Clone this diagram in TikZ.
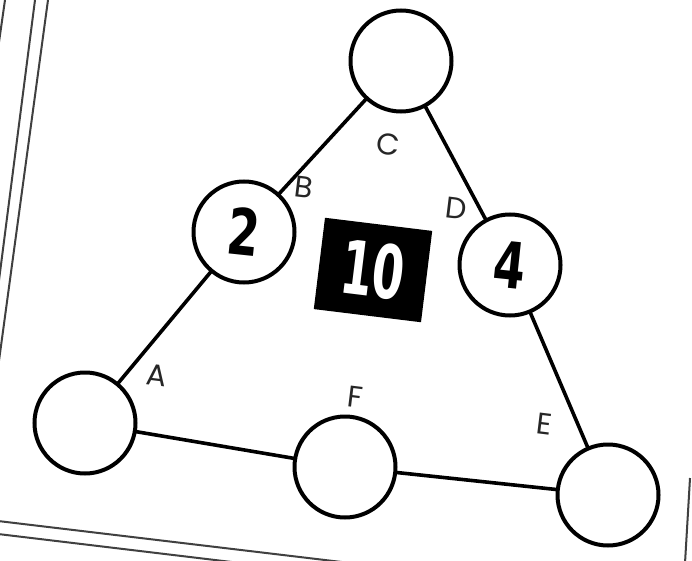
\documentclass[tikz,border=0pt]{standalone}
\usepackage{fontspec}
\usepackage{graphicx}
\setmainfont{Poppins}
\newfontfamily\numfont{DejaVu Sans}
\tikzset{
  spot/.style={circle, draw=black, line width=4pt, fill=white, minimum size=101pt, inner sep=0pt},
  edge/.style={line width=3.6pt, black},
  lbl/.style={font=\fontsize{30}{32}\selectfont, text=black!85, rotate=-7, inner sep=0pt},
  num/.style={font=\numfont\bfseries\fontsize{64}{66}\selectfont, rotate=-6, inner sep=0pt},
  paper/.style={line width=2pt, black!75},
}
\begin{document}
\begin{tikzpicture}[x=1pt,y=-1pt]
\useasboundingbox (0,0) rectangle (692,561);
\fill[white] (0,0) rectangle (692,561);
% paper edges
\coordinate (l0a) at (5,0); \coordinate (l0b) at (-1,42);
\coordinate (l1a) at (35,0); \coordinate (l1b) at (-2,288);
\coordinate (l2a) at (48,0); \coordinate (l2b) at (-2,368);
\coordinate (b1a) at (-2,521); \coordinate (b1b) at (350,563);
\coordinate (b2a) at (-2,534); \coordinate (b2b) at (240,563);
\coordinate (ra) at (690,478); \coordinate (rb) at (685,563);
\draw[paper] (l0a) -- (l0b);
\draw[paper] (l1a) -- (l1b);
\draw[paper] (l2a) -- (l2b);
\draw[paper] (b1a) -- (b1b);
\draw[paper] (b2a) -- (b2b);
\draw[paper] (ra) -- (rb);
% circle positions
\coordinate (pt) at (401,61);
\coordinate (pl) at (85,423);
\coordinate (pf) at (345,467);
\coordinate (pr) at (608,495);
\coordinate (p2) at (244,232);
\coordinate (p4) at (510,265);
% edges
\draw[edge] (pl) -- (p2) -- (pt) -- (p4) -- (pr) -- (pf) -- (pl);
% circles
\node[spot] (top) at (pt) {};
\node[spot] (left) at (pl) {};
\node[spot] (mid) at (pf) {};
\node[spot] (right) at (pr) {};
\node[spot] (two) at (p2) {};
\node[spot] (four) at (p4) {};
\node[num] (n2) at (two) {\scalebox{0.72}[1]{2}};
\node[num] (n4) at (four) {\scalebox{0.72}[1]{4}};
% center box
\node[fill=black, minimum width=108pt, minimum height=92pt, rotate=-7, inner sep=0pt] (sum) at (373,270) {};
\node[text=white, rotate=-7, inner sep=0pt, font=\numfont\bfseries\fontsize{74}{76}\selectfont] (sumtext) at (sum.center) {\scalebox{0.62}[1]{10}};
% labels
\node[lbl] (A) at (157,375) {A};
\node[lbl] (B) at (304,187) {B};
\node[lbl] (C) at (388,144) {C};
\node[lbl] (D) at (456,208) {D};
\node[lbl] (E) at (544,424) {E};
\node[lbl] (F) at (355,397) {F};
\end{tikzpicture}
\end{document}
